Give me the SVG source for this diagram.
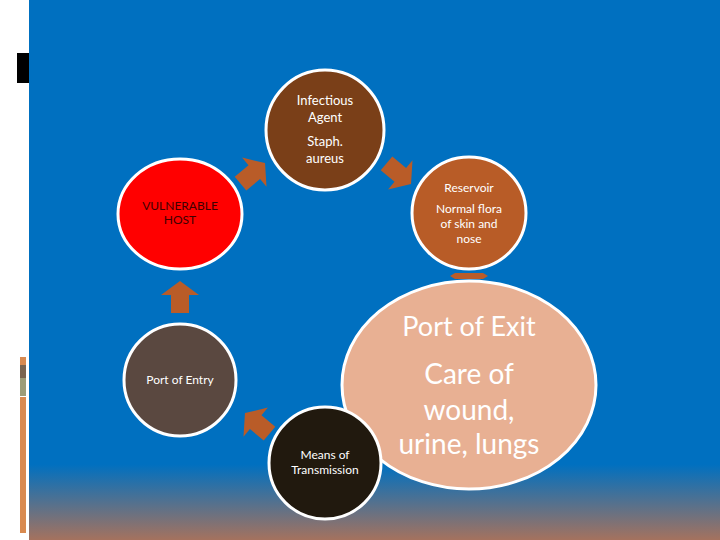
<svg xmlns="http://www.w3.org/2000/svg" width="720" height="540" viewBox="0 0 720 540">
<defs>
<linearGradient id="bg" x1="0" y1="0" x2="0" y2="1">
<stop offset="0" stop-color="#0070C0"/><stop offset="0.86" stop-color="#0070C0"/><stop offset="1" stop-color="#A5725E"/>
</linearGradient>
<path id="arr" d="M-15,-9 L3,-9 L3,-19 L17,0 L3,19 L3,9 L-15,9 Z"/>
</defs>
<style>
.n{stroke:#fff;stroke-width:3}
.t{font-family:Lato,"Open Sans",sans-serif;fill:#fff;text-anchor:middle}
.a{fill:#B95C28}
</style>
<rect width="720" height="540" fill="#fff"/>
<rect x="29" width="691" height="540" fill="url(#bg)"/>
<rect x="17" y="53" width="12" height="30" fill="#000"/>
<rect x="20" y="357" width="6" height="8" fill="#D98A50"/>
<rect x="20" y="365" width="6" height="13" fill="#7A6450"/>
<rect x="20" y="378" width="6" height="18" fill="#9C9C78"/>
<rect x="20" y="397" width="6" height="136" fill="#D98A50"/>
<g id="connectors" class="a">
<use href="#arr" transform="translate(252,174) rotate(-40)"/>
<use href="#arr" transform="translate(398,173) rotate(40)"/>
<use href="#arr" transform="translate(180,298) rotate(-90)"/>
<use href="#arr" transform="translate(258,424) rotate(-140)"/>
<path d="M455,273 L483,273 L488,276 L483,279 L455,279 L450,276 Z"/>
</g>
<g id="exit"><ellipse class="n" cx="469" cy="385" rx="127" ry="104" fill="#E8B093"/>
<text class="t" x="469" y="336" font-size="27">Port of Exit</text>
<text class="t" x="469" y="384" font-size="28">Care of</text>
<text class="t" x="469" y="420" font-size="28">wound,</text>
<text class="t" x="469" y="454" font-size="28">urine, lungs</text></g>
<g id="agent"><ellipse class="n" cx="325" cy="130" rx="59" ry="60" fill="#7A3F18"/>
<text class="t" x="325" y="105" font-size="13">Infectious</text>
<text class="t" x="325" y="122" font-size="13">Agent</text>
<text class="t" x="325" y="146" font-size="13">Staph.</text>
<text class="t" x="325" y="163" font-size="13">aureus</text></g>
<g id="reservoir"><ellipse class="n" cx="469" cy="213" rx="57" ry="56" fill="#B85C27"/>
<text class="t" x="469" y="192" font-size="12">Reservoir</text>
<text class="t" x="469" y="213" font-size="12">Normal flora</text>
<text class="t" x="469" y="228" font-size="12">of skin and</text>
<text class="t" x="469" y="243" font-size="12">nose</text></g>
<g id="host"><ellipse class="n" cx="180" cy="214" rx="62" ry="55" fill="#FF0000"/>
<text class="t" x="180" y="210" font-size="12" style="fill:#400000">VULNERABLE</text>
<text class="t" x="180" y="224" font-size="12" style="fill:#400000">HOST</text></g>
<g id="entry"><ellipse class="n" cx="180" cy="380" rx="56" ry="56" fill="#5A4840"/>
<text class="t" x="180" y="384" font-size="12">Port of Entry</text></g>
<g id="means"><ellipse class="n" cx="325" cy="463" rx="56" ry="56" fill="#21190E"/>
<text class="t" x="325" y="459" font-size="12">Means of</text>
<text class="t" x="325" y="474" font-size="12">Transmission</text></g>
</svg>
